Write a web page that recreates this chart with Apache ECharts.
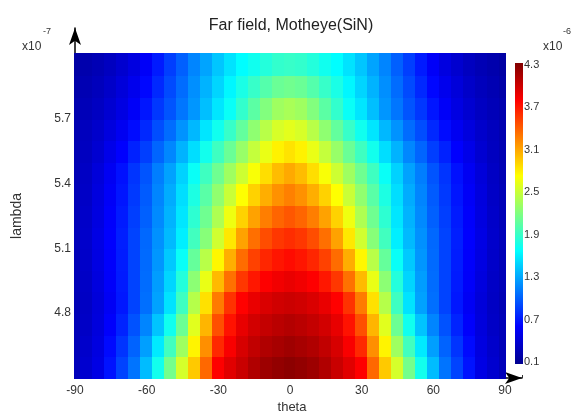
<!DOCTYPE html>
<html>
<head>
<meta charset="utf-8">
<script src="https://cdn.jsdelivr.net/npm/echarts@6/dist/echarts.min.js"></script>
<style>html,body{margin:0;padding:0;background:#fff}#c{width:574px;height:417px}</style>
</head>
<body>
<div id="c"></div>
<script>
// ---- data ----
const titleText = 'Far field, Motheye(SiN)';
const thetaValues = [-90,-85,-80,-75,-70,-65,-60,-55,-50,-45,-40,-35,-30,-25,-20,-15,-10,-5,0,5,10,15,20,25,30,35,40,45,50,55,60,65,70,75,80,85,90];
const lambdaValues = [4.55,4.65,4.75,4.85,4.95,5.05,5.15,5.25,5.35,5.45,5.55,5.65,5.75,5.85,5.95];
// far-field values (x1e-6), one row per lambda (bottom to top), columns follow thetaValues
const fieldRows = [
 [0.30,0.40,0.50,0.70,0.90,1.10,1.40,1.75,2.15,2.55,2.95,3.35,3.78,3.90,4.00,4.10,4.18,4.22,4.25,4.22,4.18,4.10,4.00,3.90,3.78,3.35,2.95,2.55,2.15,1.75,1.40,1.10,0.90,0.70,0.50,0.40,0.30],
 [0.29,0.38,0.48,0.66,0.84,1.03,1.28,1.59,1.94,2.33,2.77,3.19,3.61,3.80,3.94,4.03,4.10,4.14,4.17,4.14,4.10,4.03,3.94,3.80,3.61,3.19,2.77,2.33,1.94,1.59,1.28,1.03,0.84,0.66,0.48,0.38,0.29],
 [0.29,0.36,0.46,0.61,0.77,0.96,1.17,1.43,1.74,2.12,2.60,3.03,3.45,3.70,3.87,3.96,4.02,4.06,4.09,4.06,4.02,3.96,3.87,3.70,3.45,3.03,2.60,2.12,1.74,1.43,1.17,0.96,0.77,0.61,0.46,0.36,0.29],
 [0.28,0.35,0.45,0.58,0.72,0.90,1.08,1.29,1.56,1.93,2.42,2.85,3.27,3.57,3.77,3.86,3.93,3.97,3.99,3.97,3.93,3.86,3.77,3.57,3.27,2.85,2.42,1.93,1.56,1.29,1.08,0.90,0.72,0.58,0.45,0.35,0.28],
 [0.29,0.36,0.47,0.60,0.73,0.90,1.07,1.27,1.50,1.82,2.25,2.64,3.01,3.31,3.55,3.68,3.78,3.83,3.86,3.83,3.78,3.68,3.55,3.31,3.01,2.64,2.25,1.82,1.50,1.27,1.07,0.90,0.73,0.60,0.47,0.36,0.29],
 [0.29,0.37,0.49,0.61,0.74,0.90,1.06,1.24,1.45,1.71,2.09,2.43,2.76,3.06,3.33,3.51,3.62,3.69,3.73,3.69,3.62,3.51,3.33,3.06,2.76,2.43,2.09,1.71,1.45,1.24,1.06,0.90,0.74,0.61,0.49,0.37,0.29],
 [0.30,0.38,0.50,0.62,0.75,0.90,1.05,1.22,1.39,1.61,1.94,2.23,2.53,2.82,3.11,3.32,3.46,3.55,3.59,3.55,3.46,3.32,3.11,2.82,2.53,2.23,1.94,1.61,1.39,1.22,1.05,0.90,0.75,0.62,0.50,0.38,0.30],
 [0.29,0.37,0.48,0.61,0.73,0.88,1.02,1.19,1.36,1.57,1.86,2.13,2.39,2.66,2.91,3.11,3.26,3.36,3.42,3.36,3.26,3.11,2.91,2.66,2.39,2.13,1.86,1.57,1.36,1.19,1.02,0.88,0.73,0.61,0.48,0.37,0.29],
 [0.29,0.36,0.47,0.59,0.71,0.86,1.00,1.17,1.33,1.54,1.79,2.04,2.27,2.50,2.72,2.91,3.06,3.18,3.25,3.18,3.06,2.91,2.72,2.50,2.27,2.04,1.79,1.54,1.33,1.17,1.00,0.86,0.71,0.59,0.47,0.36,0.29],
 [0.28,0.35,0.45,0.57,0.69,0.84,0.97,1.14,1.29,1.49,1.71,1.93,2.13,2.33,2.52,2.70,2.86,3.00,3.08,3.00,2.86,2.70,2.52,2.33,2.13,1.93,1.71,1.49,1.29,1.14,0.97,0.84,0.69,0.57,0.45,0.35,0.28],
 [0.27,0.33,0.41,0.52,0.62,0.76,0.88,1.04,1.18,1.36,1.54,1.75,1.93,2.11,2.30,2.48,2.64,2.78,2.84,2.78,2.64,2.48,2.30,2.11,1.93,1.75,1.54,1.36,1.18,1.04,0.88,0.76,0.62,0.52,0.41,0.33,0.27],
 [0.26,0.32,0.38,0.47,0.56,0.67,0.79,0.94,1.07,1.23,1.38,1.57,1.74,1.90,2.08,2.26,2.43,2.56,2.61,2.56,2.43,2.26,2.08,1.90,1.74,1.57,1.38,1.23,1.07,0.94,0.79,0.67,0.56,0.47,0.38,0.32,0.26],
 [0.25,0.29,0.34,0.41,0.49,0.59,0.71,0.85,0.97,1.11,1.24,1.41,1.57,1.71,1.88,2.05,2.21,2.33,2.37,2.33,2.21,2.05,1.88,1.71,1.57,1.41,1.24,1.11,0.97,0.85,0.71,0.59,0.49,0.41,0.34,0.29,0.25],
 [0.22,0.27,0.31,0.37,0.45,0.54,0.65,0.79,0.93,1.07,1.21,1.36,1.50,1.64,1.78,1.90,2.02,2.11,2.14,2.11,2.02,1.90,1.78,1.64,1.50,1.36,1.21,1.07,0.93,0.79,0.65,0.54,0.45,0.37,0.31,0.27,0.22],
 [0.20,0.24,0.28,0.33,0.40,0.48,0.59,0.73,0.88,1.02,1.17,1.30,1.44,1.56,1.67,1.74,1.82,1.88,1.90,1.88,1.82,1.74,1.67,1.56,1.44,1.30,1.17,1.02,0.88,0.73,0.59,0.48,0.40,0.33,0.28,0.24,0.20]
];
const xTicks = [-90,-60,-30,0,30,60,90];
const yTicks = [4.8,5.1,5.4,5.7];
const colorbarTicks = [0.1,0.7,1.3,1.9,2.5,3.1,3.7,4.3];
const thetaRange = [-90, 90];
const lambdaRange = [4.5, 6.0];
const fieldRange = [0.1, 4.3];

// ---- rendering ----
const jet = ['#00008f','#0000ff','#0080ff','#00ffff','#80ff80','#ffff00','#ff8000','#ff0000','#800000'];
const FONT = '"Liberation Sans", Arial, sans-serif';
const dTheta = thetaValues[1] - thetaValues[0];
const dLambda = lambdaValues[1] - lambdaValues[0];

const cells = [];
fieldRows.forEach((row, i) => {
  row.forEach((v, j) => cells.push([thetaValues[j], lambdaValues[i], v]));
});

const chart = echarts.init(document.getElementById('c'), null, {renderer: 'canvas'});
const near = (arr, v) => arr.some(t => Math.abs(t - v) < 1e-6);

chart.setOption({
  animation: false,
  backgroundColor: '#fff',
  grid: [
    {left: 75, right: 52, top: 28, bottom: 39},
    {left: 515, top: 65, width: 8, height: 297}
  ],
  xAxis: [
    {
      gridIndex: 0, type: 'value', min: thetaRange[0], max: 97.1, interval: 30,
      axisLine: {show: true, onZero: false, lineStyle: {color: '#000', width: 1.5}, symbol: ['none', 'arrow'], symbolSize: [9, 17]},
      axisTick: {show: true, inside: true, length: 3, lineStyle: {color: '#333'}},
      axisLabel: {margin: 7, color: '#333', fontSize: 12, fontFamily: FONT,
        formatter: v => near(xTicks, v) ? String(Math.round(v)) : ''},
      splitLine: {show: false}
    },
    {gridIndex: 1, type: 'value', min: 0, max: 1, show: false}
  ],
  yAxis: [
    {
      gridIndex: 0, type: 'value', min: lambdaRange[0], max: 6.12, interval: 0.3,
      axisLine: {show: true, onZero: false, lineStyle: {color: '#000', width: 1.5}, symbol: ['none', 'arrow'], symbolSize: [9, 17]},
      axisTick: {show: false},
      axisLabel: {margin: 4, color: '#333', fontSize: 12, fontFamily: FONT,
        formatter: v => near(yTicks, v) ? v.toFixed(1) : ''},
      splitLine: {show: false}
    },
    {
      gridIndex: 1, type: 'value', position: 'right',
      min: 0, max: fieldRange[1] - fieldRange[0], interval: 0.6,
      axisLine: {show: false},
      axisTick: {show: true, length: 3, lineStyle: {color: '#222', width: 1}},
      axisLabel: {margin: 1, color: '#333', fontSize: 11, fontFamily: FONT,
        formatter: v => { const t = v + fieldRange[0]; return near(colorbarTicks, t) ? t.toFixed(1) : ''; }},
      splitLine: {show: false}
    }
  ],
  visualMap: {
    type: 'continuous', show: false, seriesIndex: 0, dimension: 2,
    min: fieldRange[0], max: fieldRange[1], inRange: {color: jet}
  },
  series: [
    {
      type: 'custom', xAxisIndex: 0, yAxisIndex: 0,
      dimensions: ['theta', 'lambda', 'field'],
      encode: {x: 0, y: 1},
      data: cells,
      silent: true,
      renderItem: (params, api) => {
        const th = api.value(0), la = api.value(1);
        const x0 = Math.max(th - dTheta / 2, thetaRange[0]);
        const x1 = Math.min(th + dTheta / 2, thetaRange[1]);
        const y0 = Math.min(la + dLambda / 2, lambdaRange[1]);
        const y1 = Math.max(la - dLambda / 2, lambdaRange[0]);
        const p0 = api.coord([x0, y0]);
        const p1 = api.coord([x1, y1]);
        return {type: 'rect', shape: {x: Math.floor(p0[0]), y: Math.floor(p0[1]), width: Math.ceil(p1[0] - p0[0]) + 1, height: Math.ceil(p1[1] - p0[1]) + 1},
          style: {fill: api.visual('color')}};
      },
      z: 1
    },
    {
      type: 'custom', xAxisIndex: 1, yAxisIndex: 1,
      data: [[0, 0]], silent: true,
      renderItem: (params, api) => {
        const a = api.coord([0, fieldRange[1] - fieldRange[0]]);
        const b = api.coord([1, 0]);
        return {type: 'rect', shape: {x: a[0], y: a[1] - 2, width: b[0] - a[0], height: b[1] - a[1] + 4},
          style: {fill: new echarts.graphic.LinearGradient(0, 1, 0, 0,
            jet.map((c, i) => ({offset: i / (jet.length - 1), color: c})))}};
      }
    }
  ],
  graphic: [
    {type: 'text', x: 291, y: 26, style: {text: titleText, align: 'center', verticalAlign: 'middle', font: '16px ' + FONT, fill: '#222'}},
    {type: 'text', x: 22, y: 41, style: {text: 'x10', font: '12px ' + FONT, fill: '#333'}},
    {type: 'text', x: 43, y: 27, style: {text: '-7', font: '9px ' + FONT, fill: '#333'}},
    {type: 'text', x: 543, y: 41, style: {text: 'x10', font: '12px ' + FONT, fill: '#333'}},
    {type: 'text', x: 563, y: 27, style: {text: '-6', font: '9px ' + FONT, fill: '#333'}},
    {type: 'text', x: 292, y: 407, style: {text: 'theta', align: 'center', verticalAlign: 'middle', font: '13px ' + FONT, fill: '#333'}},
    {type: 'text', x: 17, y: 216, rotation: Math.PI / 2, style: {text: 'lambda', align: 'center', verticalAlign: 'middle', font: '14px ' + FONT, fill: '#333'}}
  ]
});
</script>
</body>
</html>
